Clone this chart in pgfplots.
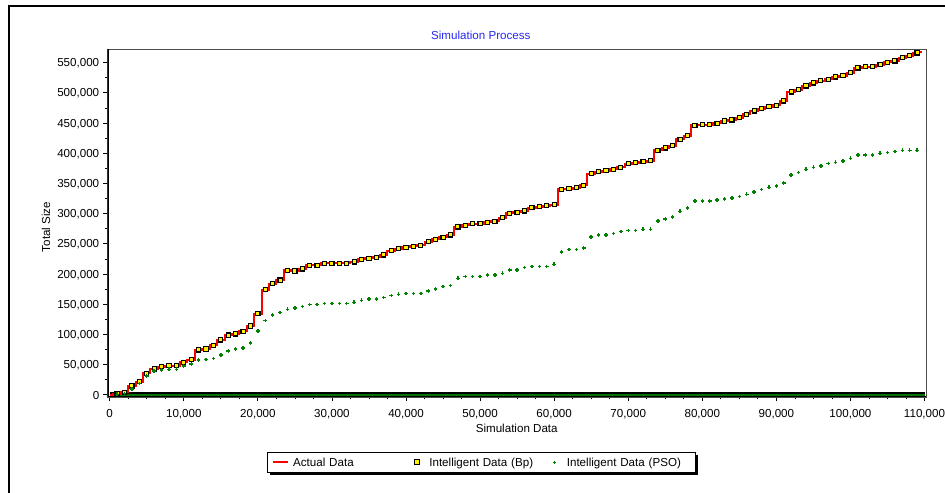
\documentclass[border=0pt]{standalone}
\usepackage{fontspec}
\setmainfont{Liberation Sans}
\usepackage{pgfplots}
\pgfplotsset{compat=1.18}
\usepackage{pgfplotstable}
\definecolor{titleblue}{RGB}{40,40,245}
\definecolor{psogreen}{RGB}{0,130,0}
\definecolor{bargreen}{RGB}{0,115,0}
\newcommand\fs{\fontsize{11.6bp}{13.9bp}\selectfont}

\pgfplotstableread{
x bp pso
1000 2000 1000
2000 4000 2500
3000 14900 10000
4000 22000 18700
5000 35900 31400
6000 43000 39700
7000 46900 41400
8000 48500 42500
9000 48500 42500
10000 54000 47500
11000 58000 50800
12000 74500 57900
13000 76000 58400
14000 82000 60100
15000 91000 65700
16000 99000 72800
17000 101000 76100
18000 105000 77300
19000 114000 86100
20000 134500 105900
21000 174000 123000
22000 184000 132400
23000 190000 136200
24000 206000 141800
25000 205000 144000
26000 208500 146100
27000 214600 149400
28000 214600 149400
29000 218000 151100
30000 218000 151100
31000 218000 151100
32000 218000 151100
33000 220100 153400
34000 224600 156700
35000 226200 158900
36000 227900 158900
37000 231700 161100
38000 238800 164400
39000 242100 166600
40000 244400 167700
41000 246100 167700
42000 247700 167700
43000 253700 172100
44000 257700 175400
45000 261000 179200
46000 264800 180900
47000 278000 193100
48000 280800 195800
49000 283500 195800
50000 283500 195800
51000 285800 198100
52000 287400 198100
53000 293400 201400
54000 300700 206900
55000 302300 206900
56000 304500 210700
57000 310000 212300
58000 311600 212300
59000 313300 212300
60000 315000 216300
61000 340400 236700
62000 341400 240500
63000 343100 240500
64000 347000 242800
65000 366300 261500
66000 369600 264800
67000 371200 264800
68000 373500 267000
69000 376800 270300
70000 382800 271900
71000 384500 271900
72000 386100 274200
73000 387800 274200
74000 405000 287500
75000 408800 291300
76000 412600 294600
77000 423200 304000
78000 429100 309500
79000 446300 321100
80000 447400 321100
81000 447400 321100
82000 449700 322700
83000 453300 324400
84000 455100 326000
85000 458900 328200
86000 464600 332100
87000 470000 336000
88000 473900 339800
89000 477200 343700
90000 479400 345900
91000 486600 350900
92000 501500 364100
93000 505300 367900
94000 511400 373500
95000 516400 376800
96000 520200 379000
97000 522500 382800
98000 526300 385100
99000 528400 386800
100000 533400 391700
101000 541200 397200
102000 543300 397200
103000 543300 397200
104000 546600 400000
105000 550600 401000
106000 552800 402700
107000 558200 404900
108000 561500 404900
109000 566000 404900
}\simdata

\pgfplotstableread{
x y
0 0
1000 2000
2000 4000
3000 14900
4000 22000
5000 35900
6000 43000
7000 46900
8000 48500
9000 48500
10000 54000
11000 58000
12000 74500
13000 76000
14000 82000
15000 91000
16000 99000
17000 101000
18000 105000
19000 114000
20000 134500
21000 174000
22000 184000
23000 190000
24000 206000
25000 205000
26000 208500
27000 214600
28000 214600
29000 218000
30000 218000
31000 218000
32000 218000
33000 220100
34000 224600
35000 226200
36000 227900
37000 231700
38000 238800
39000 242100
40000 244400
41000 246100
42000 247700
43000 253700
44000 257700
45000 261000
46000 264800
47000 278000
48000 280800
49000 283500
50000 283500
51000 285800
52000 287400
53000 293400
54000 300700
55000 302300
56000 304500
57000 310000
58000 311600
59000 313300
60000 315000
61000 340400
62000 341400
63000 343100
64000 347000
65000 366300
66000 369600
67000 371200
68000 373500
69000 376800
70000 382800
71000 384500
72000 386100
73000 387800
74000 405000
75000 408800
76000 412600
77000 423200
78000 429100
79000 446300
80000 447400
81000 447400
82000 449700
83000 453300
84000 455100
85000 458900
86000 464600
87000 470000
88000 473900
89000 477200
90000 479400
91000 486600
92000 501500
93000 505300
94000 511400
95000 516400
96000 520200
97000 522500
98000 526300
99000 528400
100000 533400
101000 541200
102000 543300
103000 543300
104000 546600
105000 550600
106000 552800
107000 558200
108000 561500
109000 566000
109600 567000
}\actual

\begin{document}
\begin{tikzpicture}
\useasboundingbox (0,0) rectangle (945bp,493bp);
\fill[white] (0,0) rectangle (945bp,493bp);
% legend shadow
\fill[black] (694.3bp,18.3bp) rectangle (697.5bp,37.7bp);
\fill[black] (270.3bp,18.3bp) rectangle (697.5bp,21.5bp);
\begin{axis}[
  at={(107.5bp,96bp)}, anchor=south west,
  scale only axis, width=818.5bp, height=347.7bp,
  xmin=-300, xmax=110200, ymin=-3500, ymax=572000,
  scaled ticks=false,
  xtick={0,10000,20000,30000,40000,50000,60000,70000,80000,90000,100000,110000},
  xticklabels={0,{10,000},{20,000},{30,000},{40,000},{50,000},{60,000},{70,000},{80,000},{90,000},{100,000},{110,000}},
  ytick={0,50000,100000,150000,200000,250000,300000,350000,400000,450000,500000,550000},
  yticklabels={0,{50,000},{100,000},{150,000},{200,000},{250,000},{300,000},{350,000},{400,000},{450,000},{500,000},{550,000}},
  minor x tick num=3, minor y tick num=1,
  xtick pos=left, ytick pos=left,
  tick align=outside, major tick length=4.3bp, minor tick length=2.5bp,
  tick style={black, line width=0.8bp},
  ticklabel style={font=\fs},
  yticklabel style={inner sep=0pt, anchor=east, text height=8.3bp, text depth=0pt, xshift=-3.8bp},
  xticklabel style={inner sep=0pt, anchor=north, text height=8.3bp, text depth=0pt, yshift=-8bp},
  axis line style={draw=black!70, line width=0.8bp},
  title={Simulation Process},
  title style={at={(0.4561,1.0411)}, anchor=center, yshift=-6pt, text=titleblue, font=\fs},
  xlabel={Simulation Data},
  xlabel style={at={(axis description cs:0.5,-0.0892)}, anchor=center, font=\fs},
  ylabel={Total Size},
  ylabel style={at={(axis description cs:-0.0751,0.489)}, anchor=center, font=\fs},
  legend columns=3,
  legend style={at={(0.1952,-0.159)}, anchor=north west, draw=black, line width=0.9bp,
    fill=white, inner xsep=4.7bp, inner ysep=3bp, cells={anchor=west},
    nodes={inner sep=0pt, text height=10.9bp, text depth=2.5bp, font=\fs}},
]
\addplot[forget plot, draw=black, line width=5.7bp] coordinates {(0,0) (110000,0)};
\addplot[forget plot, draw=bargreen, line width=4.2bp, yshift=-0.75bp] coordinates {(0,0) (110000,0)};
\addplot[red, line width=2bp, const plot mark mid,
  legend image code/.code={\path[draw=none, fill=none] (0bp,-1bp) rectangle (19.7bp,1bp);
    \draw[red, line width=2bp] (0bp,0bp) -- (15bp,0bp);}]
  table[x=x,y=y] {\actual};
\addlegendentry[text width=116.5bp]{Actual Data}
\addplot[only marks, mark=square*, mark size=2.1bp,
  mark options={fill=yellow, draw=black, line width=1.1bp, solid},
  legend image code/.code={\path[draw=none, fill=none] (0bp,-1bp) rectangle (19.7bp,1bp);
    \filldraw[fill=yellow, draw=black, line width=1bp] (5bp,-2.5bp) rectangle (10bp,2.5bp);}]
  table[x=x,y=bp] {\simdata};
\addlegendentry[text width=117.8bp]{Intelligent Data (Bp)}
\addplot[only marks, mark=+, mark size=1.8bp, psogreen, line width=1.4bp,
  legend image code/.code={\path[draw=none, fill=none] (0bp,-1bp) rectangle (19.7bp,1bp);
    \draw[psogreen, line width=1bp] (6bp,0bp) -- (9bp,0bp) (7.5bp,-1.5bp) -- (7.5bp,1.5bp);}]
  table[x=x,y=pso] {\simdata};
\addlegendentry[text width=124.2bp]{Intelligent Data (PSO)}
\draw[black, line width=2bp] (rel axis cs:0,0) -- (rel axis cs:0,1);
\draw[black, line width=1.2bp] (rel axis cs:0,0) -- (rel axis cs:1,0);
\end{axis}
\draw[black, line width=2.5bp] (9.2bp,0bp) -- (9.2bp,486.8bp) -- (945bp,486.8bp);
\end{tikzpicture}
\end{document}
